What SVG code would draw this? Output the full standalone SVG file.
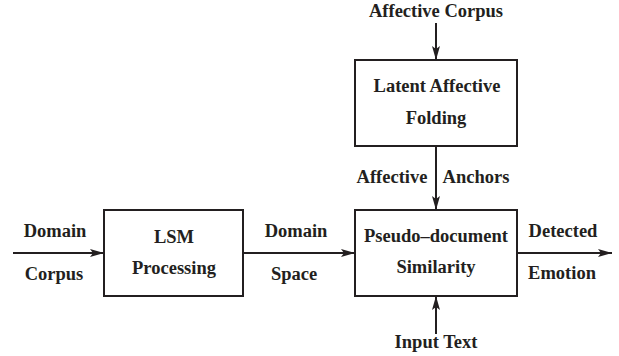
<svg xmlns="http://www.w3.org/2000/svg" width="619" height="356" viewBox="0 0 619 356">
  <style>
    .box { fill: #fff; stroke: #231f20; stroke-width: 2; }
    .lbl { font-family: "Liberation Serif", "Times New Roman", serif; font-weight: bold; font-size: 18.5px; fill: #231f20; text-anchor: middle; }
    .wire { stroke: #231f20; stroke-width: 2; fill: none; marker-end: url(#head); }
  </style>
  <defs>
    <marker id="head" viewBox="0 0 14 8" refX="14" refY="4" markerWidth="14" markerHeight="8" markerUnits="userSpaceOnUse" orient="auto">
      <path d="M0,0 L14,4 L0,8 L3,4 Z" fill="#231f20"/>
    </marker>
  </defs>

  <g id="connectors">
    <line class="wire" x1="13" y1="253" x2="104" y2="253"/>
    <line class="wire" x1="243" y1="253" x2="355" y2="253"/>
    <line class="wire" x1="517" y1="253" x2="612" y2="253"/>
    <line class="wire" x1="436" y1="23" x2="436" y2="60"/>
    <line class="wire" x1="436" y1="146" x2="436" y2="210"/>
    <line class="wire" x1="436" y1="334" x2="436" y2="296"/>
  </g>

  <g id="labels">
    <text class="lbl" x="55" y="237">Domain</text>
    <text class="lbl" x="54" y="280">Corpus</text>
    <text class="lbl" x="296" y="237">Domain</text>
    <text class="lbl" x="294" y="280">Space</text>
    <text class="lbl" x="563" y="237">Detected</text>
    <text class="lbl" x="562" y="279">Emotion</text>
    <text class="lbl" x="436" y="17">Affective Corpus</text>
    <text class="lbl" x="392" y="183">Affective</text>
    <text class="lbl" x="476" y="183">Anchors</text>
    <text class="lbl" x="436" y="348">Input Text</text>
  </g>

  <g id="lsm-processing">
    <rect class="box" x="104" y="210" width="139" height="86"/>
    <text class="lbl" x="174" y="243">LSM</text>
    <text class="lbl" x="174" y="274">Processing</text>
  </g>

  <g id="latent-affective-folding">
    <rect class="box" x="355" y="60" width="162" height="86"/>
    <text class="lbl" x="437" y="92">Latent Affective</text>
    <text class="lbl" x="436" y="124">Folding</text>
  </g>

  <g id="pseudo-document-similarity">
    <rect class="box" x="355" y="210" width="162" height="86"/>
    <text class="lbl" x="436" y="242">Pseudo–document</text>
    <text class="lbl" x="436" y="273">Similarity</text>
  </g>
</svg>
